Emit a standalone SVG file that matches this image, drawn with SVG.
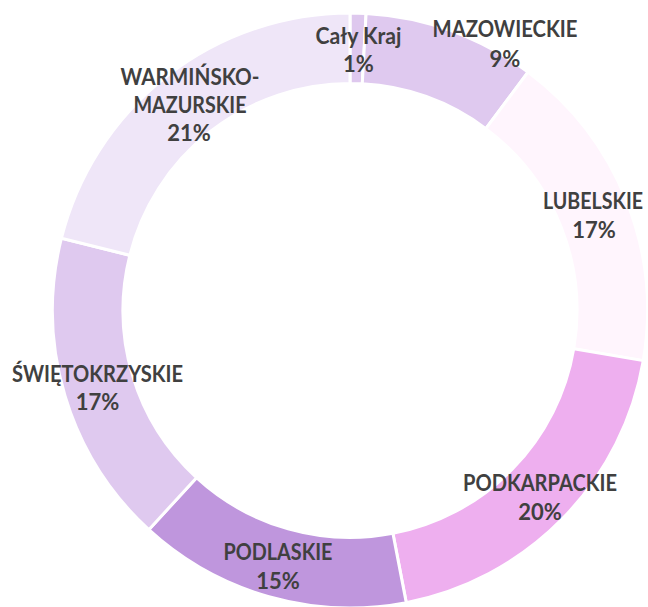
<svg xmlns="http://www.w3.org/2000/svg" width="648" height="607" viewBox="0 0 648 607">
<style>
.seg{stroke:#ffffff;stroke-width:3;stroke-linejoin:miter}
.lbl{font-family:Lato,"Open Sans","Liberation Sans",sans-serif;font-weight:bold;font-size:22px;fill:#404040;text-anchor:middle}
</style>
<rect width="648" height="607" fill="#ffffff"/>
<g id="connectors"></g>
<g id="seg-caly-kraj">
<path class="seg" fill="#DEC8EE" d="M350,13 A297.5,297.5 0 0 1 366.09,13.44 L362.28,83.83 A227,227 0 0 0 350,83.5 Z"/>
</g>
<g id="seg-mazowieckie">
<path class="seg" fill="#DFC9EF" d="M366.09,13.44 A297.5,297.5 0 0 1 528,72.13 L485.82,128.61 A227,227 0 0 0 362.28,83.83 Z"/>
</g>
<g id="seg-lubelskie">
<path class="seg" fill="#FFF5FD" d="M528,72.13 A297.5,297.5 0 0 1 643.25,360.63 L573.75,348.75 A227,227 0 0 0 485.82,128.61 Z"/>
</g>
<g id="seg-podkarpackie">
<path class="seg" fill="#EEAFEF" d="M643.25,360.63 A297.5,297.5 0 0 1 406.26,602.63 L392.92,533.4 A227,227 0 0 0 573.75,348.75 Z"/>
</g>
<g id="seg-podlaskie">
<path class="seg" fill="#BF96DD" d="M406.26,602.63 A297.5,297.5 0 0 1 148.82,529.67 L196.5,477.73 A227,227 0 0 0 392.92,533.4 Z"/>
</g>
<g id="seg-swietokrzyskie">
<path class="seg" fill="#DFC9EF" d="M148.82,529.67 A297.5,297.5 0 0 1 61.42,238.18 L129.81,255.31 A227,227 0 0 0 196.5,477.73 Z"/>
</g>
<g id="seg-warminsko-mazurskie">
<path class="seg" fill="#EFE6F8" d="M61.42,238.18 A297.5,297.5 0 0 1 350,13 L350,83.5 A227,227 0 0 0 129.81,255.31 Z"/>
</g>
<g id="label-caly-kraj">
<text class="lbl" x="358.5" y="43.5" textLength="86" lengthAdjust="spacingAndGlyphs">Cały Kraj</text>
<text class="lbl" x="358.5" y="72">1%</text>
</g>
<g id="label-mazowieckie">
<text class="lbl" x="505" y="37" textLength="145" lengthAdjust="spacingAndGlyphs">MAZOWIECKIE</text>
<text class="lbl" x="505" y="66.5">9%</text>
</g>
<g id="label-lubelskie">
<text class="lbl" x="593" y="208.5" textLength="100" lengthAdjust="spacingAndGlyphs">LUBELSKIE</text>
<text class="lbl" x="594" y="238">17%</text>
</g>
<g id="label-podkarpackie">
<text class="lbl" x="540" y="490.5" textLength="154" lengthAdjust="spacingAndGlyphs">PODKARPACKIE</text>
<text class="lbl" x="540" y="519.5">20%</text>
</g>
<g id="label-podlaskie">
<text class="lbl" x="278" y="560" textLength="109" lengthAdjust="spacingAndGlyphs">PODLASKIE</text>
<text class="lbl" x="278" y="588.5">15%</text>
</g>
<g id="label-swietokrzyskie">
<text class="lbl" x="97.5" y="381.5" textLength="171" lengthAdjust="spacingAndGlyphs">ŚWIĘTOKRZYSKIE</text>
<text class="lbl" x="97.5" y="410">17%</text>
</g>
<g id="label-warminsko-mazurskie">
<text class="lbl" x="190" y="84.5" textLength="139" lengthAdjust="spacingAndGlyphs">WARMIŃSKO-</text>
<text class="lbl" x="190" y="112.8" textLength="113" lengthAdjust="spacingAndGlyphs">MAZURSKIE</text>
<text class="lbl" x="189" y="141">21%</text>
</g>
</svg>
